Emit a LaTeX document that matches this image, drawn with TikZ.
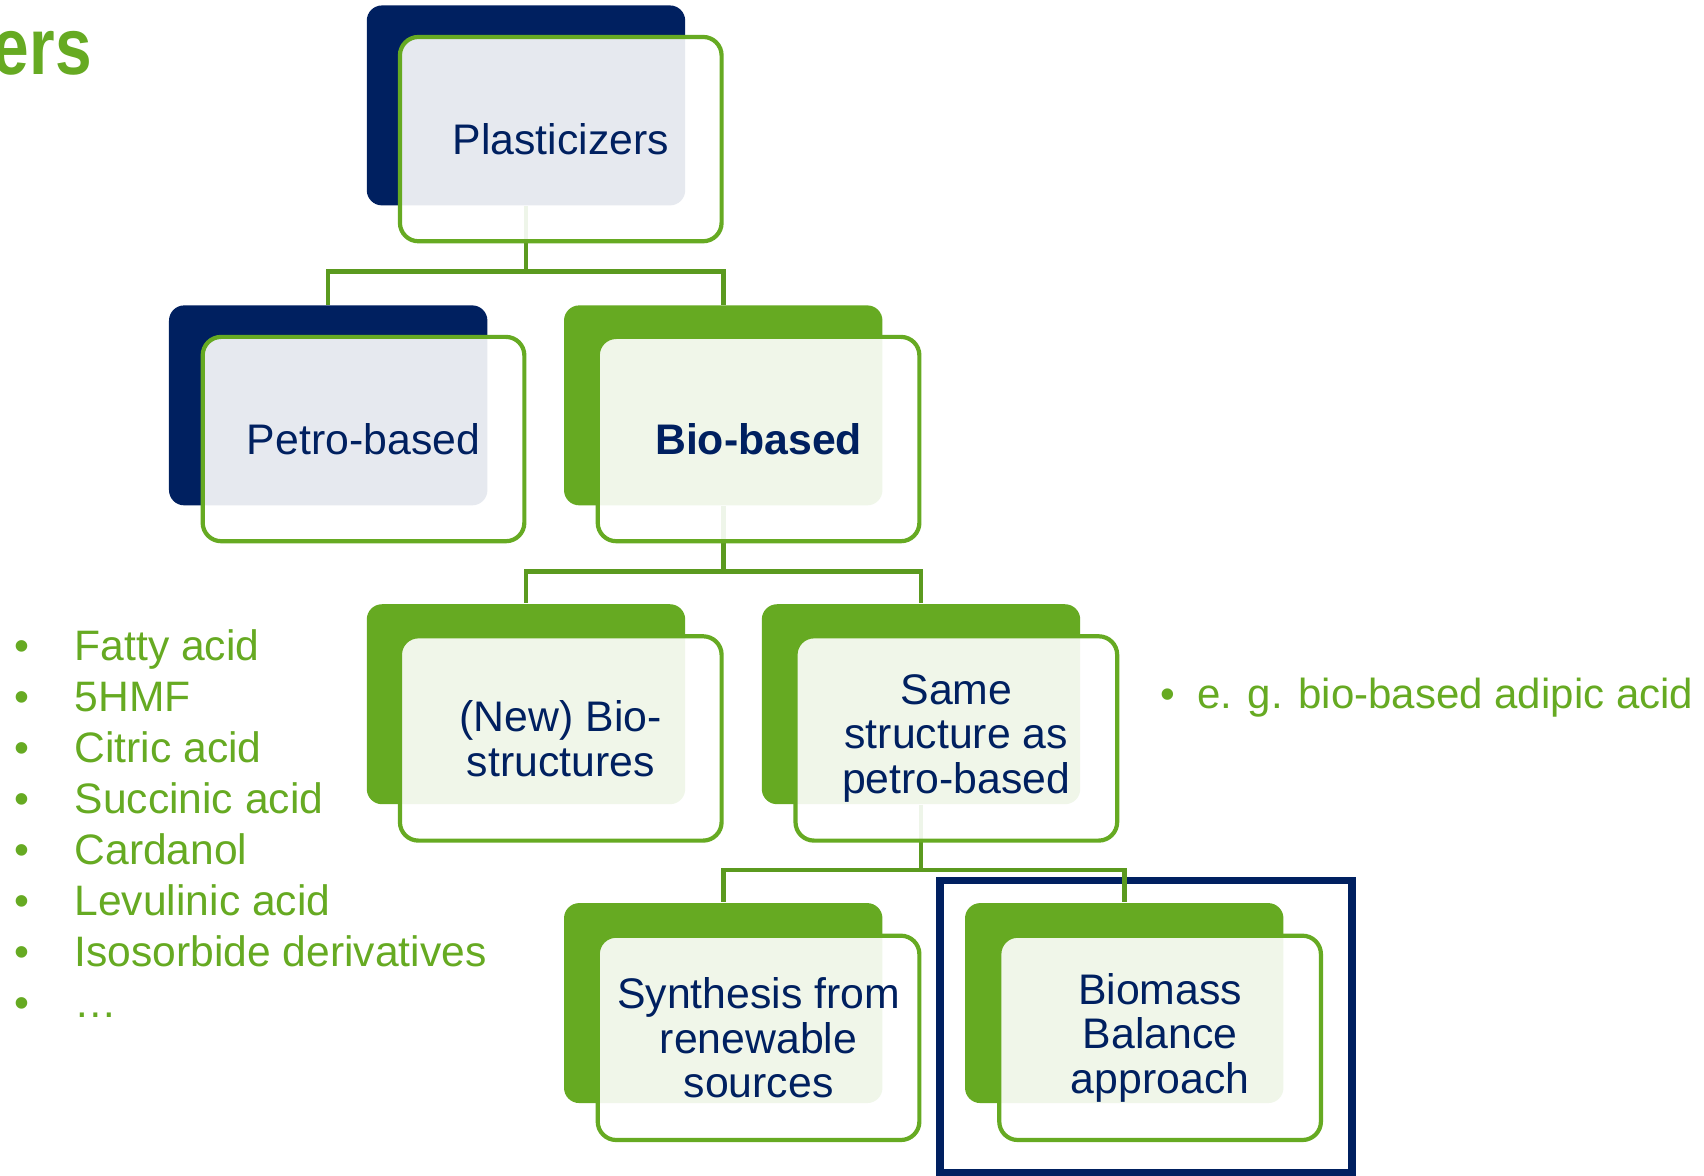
\documentclass[tikz,border=0pt]{standalone}
\usepackage{fontspec}
\setmainfont{Liberation Sans}
\usetikzlibrary{positioning}

\definecolor{navyblue}{HTML}{002060}
\definecolor{leafgreen}{HTML}{66AA22}
\definecolor{stemgreen}{HTML}{5B9A1F}

\tikzset{
  backbox/.style={rounded corners=0.14cm, inner sep=0pt,
    minimum width=2.93cm, minimum height=1.84cm},
  frontbox/.style={draw=leafgreen, line width=1.1pt, fill=white, fill opacity=0.9,
    text opacity=1, rounded corners=0.17cm, inner sep=0pt,
    minimum width=2.96cm, minimum height=1.88cm, align=center, text=navyblue,
    font=\fontsize{11.2}{11.7}\selectfont},
  stem/.style={stemgreen, line width=1.2pt},
  greentext/.style={text=leafgreen, inner sep=0pt, font=\fontsize{11.15}{13.37}\selectfont}
}

\begin{document}
\begin{tikzpicture}

      \fill[white] (0,0) rectangle (15.68,-10.82);
      \useasboundingbox (0,0) rectangle (15.68,-10.82);

      % title, cut at the left edge
      \node[anchor=base east, inner sep=0pt, xscale=0.82, text=leafgreen,
        font=\fontsize{21}{21}\selectfont\bfseries] (title) at (0.85,-0.69) {ers};

      % highlight frame
      \draw[navyblue, line width=1.9pt] (8.65,-8.10) rectangle (12.44,-10.79);

      % back boxes
      \node[backbox, fill=navyblue] (plastB) at (4.84,-0.97) {};
      \node[backbox, fill=navyblue] (petroB) at (3.02,-3.73) {};
      \node[backbox, fill=leafgreen] (bioB) at (6.655,-3.73) {};
      \node[backbox, fill=leafgreen] (newB) at (4.84,-6.48) {};
      \node[backbox, fill=leafgreen] (sameB) at (8.475,-6.48) {};
      \node[backbox, fill=leafgreen] (synthB) at (6.655,-9.23) {};
      \node[backbox, fill=leafgreen] (biomB) at (10.345,-9.23) {};

      % connectors
      \draw[stem] (plastB.south) -- ++(0,-0.6) -| (petroB.north);
      \draw[stem] (plastB.south) -- ++(0,-0.6) -| (bioB.north);

      \draw[stem] (bioB.south) -- ++(0,-0.6) -| (newB.north);
      \draw[stem] (bioB.south) -- ++(0,-0.6) -| (sameB.north);

      \draw[stem] (sameB.south) -- ++(0,-0.6) -| (synthB.north);
      \draw[stem] (sameB.south) -- ++(0,-0.6) -| (biomB.north);

      % front boxes with the labels
      \node[frontbox] (plastF) at (5.16,-1.28) {Plasticizers};
      \node[frontbox] (petroF) at (3.345,-4.04) {Petro-based};
      \node[frontbox] (bioF) at (6.98,-4.04) {\bfseries Bio-based};
      \node[frontbox] (newF) at (5.16,-6.795) {(New) Bio-\\structures};
      \node[frontbox] (sameF) at (8.80,-6.795) {Same\\structure as\\petro-based};
      \node[frontbox] (synthF) at (6.98,-9.55) {Synthesis from\\renewable\\sources};
      \node[frontbox] (biomF) at (10.675,-9.55) {Biomass\\Balance\\approach};

      % examples
      \node[greentext, anchor=north west, align=left] (biolist) at (0.13,-5.785) {%
        \makebox[0.55cm][l]{\textbullet}Fatty acid\\
        \makebox[0.55cm][l]{\textbullet}5HMF\\
        \makebox[0.55cm][l]{\textbullet}Citric acid\\
        \makebox[0.55cm][l]{\textbullet}Succinic acid\\
        \makebox[0.55cm][l]{\textbullet}Cardanol\\
        \makebox[0.55cm][l]{\textbullet}Levulinic acid\\
        \makebox[0.55cm][l]{\textbullet}Isosorbide derivatives\\
        \makebox[0.55cm][l]{\textbullet}…};
      \node[greentext, anchor=base west, font=\fontsize{11}{13}\selectfont] (samenote) at (10.67,-6.52)
        {\makebox[0.34cm][l]{\textbullet}e. g. bio-based adipic acid};
  \end{tikzpicture}
\end{document}
